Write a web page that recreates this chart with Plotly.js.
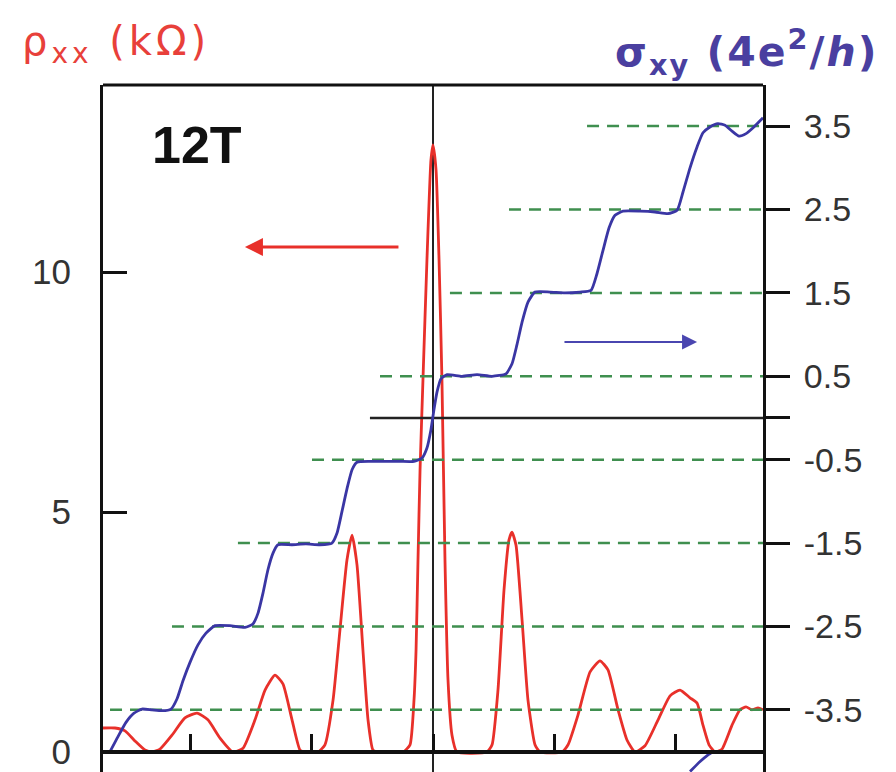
<!DOCTYPE html>
<html>
<head>
<meta charset="utf-8">
<script src="https://cdn.plot.ly/plotly-3.0.1.min.js"></script>
<style>html,body{margin:0;padding:0;background:#fff}#chart{width:896px;height:772px}</style>
</head>
<body>
<div id="chart"></div>
<script>
// rho_xx (kOhm) vs gate position (arbitrary units, tick spacing 1)
const rhoX = [-2.727,-2.628,-2.545,-2.463,-2.380,-2.322,-2.256,-2.157,-2.050,-1.950,-1.860,-1.760,-1.653,-1.570,-1.471,-1.388,-1.306,-1.240,-1.165,-1.099,-1.058,-0.950,-0.893,-0.826,-0.769,-0.711,-0.669,-0.628,-0.579,-0.537,-0.496,-0.455,-0.248,-0.190,-0.157,-0.140,-0.124,-0.107,-0.083,-0.050,-0.017,0.000,0.025,0.050,0.074,0.099,0.124,0.157,0.198,0.446,0.488,0.537,0.587,0.628,0.653,0.686,0.736,0.785,0.843,0.884,1.066,1.116,1.198,1.298,1.380,1.446,1.529,1.603,1.669,1.752,1.860,1.959,2.041,2.124,2.182,2.231,2.281,2.331,2.388,2.471,2.537,2.587,2.636,2.686,2.727];
const rhoY = [0.50,0.50,0.44,0.23,0.04,0.00,0.06,0.35,0.71,0.81,0.67,0.29,0.00,0.08,0.67,1.29,1.60,1.42,0.67,0.04,0.00,0.00,0.15,1.08,2.54,4.00,4.52,3.90,2.13,0.67,0.04,0.00,0.00,0.15,1.08,2.13,4.00,5.88,7.75,10.25,12.33,12.65,12.13,10.25,7.75,4.00,1.50,0.35,0.00,0.00,0.15,1.29,3.38,4.42,4.58,4.31,2.75,1.08,0.15,0.00,0.00,0.15,0.77,1.67,1.90,1.71,0.88,0.25,0.00,0.13,0.67,1.17,1.29,1.13,1.02,0.56,0.15,0.00,0.06,0.56,0.88,0.94,0.88,0.92,0.88];

// sigma_xy (4e^2/h)
const sigX = [-2.669,-2.603,-2.537,-2.471,-2.405,-2.322,-2.240,-2.165,-2.116,-2.066,-2.008,-1.942,-1.876,-1.802,-1.678,-1.554,-1.488,-1.446,-1.405,-1.364,-1.322,-1.281,-1.165,-1.050,-0.934,-0.835,-0.793,-0.752,-0.711,-0.669,-0.628,-0.521,-0.397,-0.273,-0.157,-0.091,-0.050,-0.017,0.008,0.033,0.066,0.116,0.240,0.364,0.488,0.603,0.653,0.694,0.736,0.785,0.843,0.967,1.091,1.215,1.306,1.355,1.405,1.455,1.504,1.570,1.711,1.835,1.942,2.017,2.066,2.124,2.182,2.231,2.289,2.355,2.413,2.471,2.529,2.587,2.645,2.727];
const sigY = [-4.00,-3.82,-3.65,-3.54,-3.49,-3.50,-3.51,-3.49,-3.37,-3.15,-2.93,-2.72,-2.58,-2.49,-2.49,-2.51,-2.47,-2.34,-2.10,-1.82,-1.62,-1.52,-1.52,-1.51,-1.52,-1.50,-1.38,-1.12,-0.85,-0.62,-0.53,-0.52,-0.52,-0.52,-0.52,-0.48,-0.36,-0.14,0.10,0.31,0.47,0.52,0.50,0.52,0.50,0.53,0.65,0.88,1.15,1.39,1.51,1.51,1.50,1.51,1.53,1.73,2.01,2.28,2.43,2.48,2.48,2.47,2.45,2.49,2.71,3.00,3.25,3.42,3.49,3.53,3.51,3.44,3.38,3.41,3.48,3.60];
const sigTailX = [2.124,2.207,2.273,2.314];
const sigTailY = [-4.24,-4.12,-4.04,-4.00];

// plateau reference levels (dashed) and where each starts
const plateauLevels = [3.5,2.5,1.5,0.5,-0.5,-1.5,-2.5,-3.5];
const plateauStarts = [1.273,0.628,0.140,-0.438,-1.000,-1.612,-2.157,-2.669];
const xEnd = 2.727;
const sigZeroStart = -0.521;

// tick labels
const leftTicks = [0,5,10];
const rightTicks = [-3.5,-2.5,-1.5,-0.5,0,0.5,1.5,2.5,3.5];
const rightTickText = ['-3.5','-2.5','-1.5','-0.5',' ','0.5','1.5','2.5','3.5'];
const xTicks = [-2,-1,0,1,2];

const RED = '#e8302a';
const BLUE = '#3a36a4';
const GREEN = '#3f8f4f';

const dashX = [], dashY = [];
plateauLevels.forEach((lv,i)=>{ dashX.push(plateauStarts[i], xEnd, null); dashY.push(lv, lv, null); });

const traces = [
  {x: dashX, y: dashY, yaxis:'y2', mode:'lines', line:{color:GREEN, width:2.5, dash:'12px,8px'}, connectgaps:false, hoverinfo:'skip'},
  {x: [sigZeroStart, xEnd], y: [0,0], yaxis:'y2', mode:'lines', line:{color:'#222', width:2.5}, hoverinfo:'skip'},
  {x: sigX, y: sigY, yaxis:'y2', mode:'lines', line:{color:BLUE, width:2.8, shape:'spline', smoothing:0.5}},
  {x: sigTailX, y: sigTailY, yaxis:'y2', mode:'lines', line:{color:BLUE, width:2.8, shape:'spline', smoothing:0.5}},
  {x: rhoX, y: rhoY, yaxis:'y', mode:'lines', line:{color:RED, width:2.8, shape:'spline', smoothing:0.5}}
];

const layout = {
  width: 896, height: 772,
  margin: {l:103, r:133, t:85, b:0, pad:0},
  paper_bgcolor:'#fff', plot_bgcolor:'#fff',
  showlegend:false, hovermode:false,
  font:{family:'Liberation Sans, Arial, sans-serif', color:'#333'},
  xaxis: {
    range:[-2.727, 2.727], tickvals:xTicks, ticks:'inside', ticklen:16, tickwidth:3, tickcolor:'#111',
    showticklabels:false, showline:true, linewidth:4, linecolor:'#111',
    anchor:'free', position:0.0291, showgrid:false,
    zeroline:true, zerolinecolor:'#222', zerolinewidth:2.2
  },
  yaxis: {
    range:[-0.4167, 13.896], tickvals:leftTicks, ticks:'inside', ticklen:24, tickwidth:3, tickcolor:'#111',
    showline:true, linewidth:3, linecolor:'#111', showgrid:false, zeroline:false,
    tickfont:{size:35, color:'#333'}, ticklabelstandoff:22
  },
  yaxis2: {
    range:[-4.245, 3.993], overlaying:'y', side:'right', anchor:'x',
    tickvals:rightTicks, ticktext:rightTickText, ticks:'outside', ticklen:24, tickwidth:3, tickcolor:'#111',
    showline:true, linewidth:3, linecolor:'#111', showgrid:false, zeroline:false,
    tickfont:{size:34, color:'#333'}, ticklabelstandoff:7
  },
  shapes: [
    {type:'line', xref:'paper', yref:'paper', x0:0, x1:1, y0:1, y1:1, line:{color:'#111', width:3}}
  ],
  annotations: [
    {x:-1.554, y:10.52, xref:'x', yref:'y', ax:-0.273, ay:10.52, axref:'x', ayref:'y',
     text:'', showarrow:true, arrowhead:2, arrowsize:1.2, arrowwidth:3, arrowcolor:RED},
    {x:2.182, y:0.911, xref:'x', yref:'y2', ax:1.074, ay:0.911, axref:'x', ayref:'y2',
     text:'', showarrow:true, arrowhead:2, arrowsize:1.5, arrowwidth:2, arrowcolor:'#4a46b0'},
    {x:-1.95, y:12.65, xref:'x', yref:'y', text:'12T', showarrow:false,
     font:{size:52, color:'#111', weight:'bold'}},
    {x:-0.1258, y:1.0597, xref:'paper', yref:'paper', xanchor:'left', yanchor:'middle', showarrow:false,
     text:'<span style="letter-spacing:4px">ρ<sub>xx</sub> (kΩ)</span>',
     font:{family:'DejaVu Sans, sans-serif', size:40, color:'#e8403a'}},
    {x:1.1773, y:1.048, xref:'paper', yref:'paper', xanchor:'right', yanchor:'middle', showarrow:false,
     text:'<span style="letter-spacing:2px"><b>σ<sub>xy</sub> (4e<sup>2</sup>/<i>h</i>)</b></span>',
     font:{family:'DejaVu Sans, sans-serif', size:41, color:'#4a3fa0'}}
  ]
};

Plotly.newPlot('chart', traces, layout, {displayModeBar:false, staticPlot:true});
</script>
</body>
</html>
